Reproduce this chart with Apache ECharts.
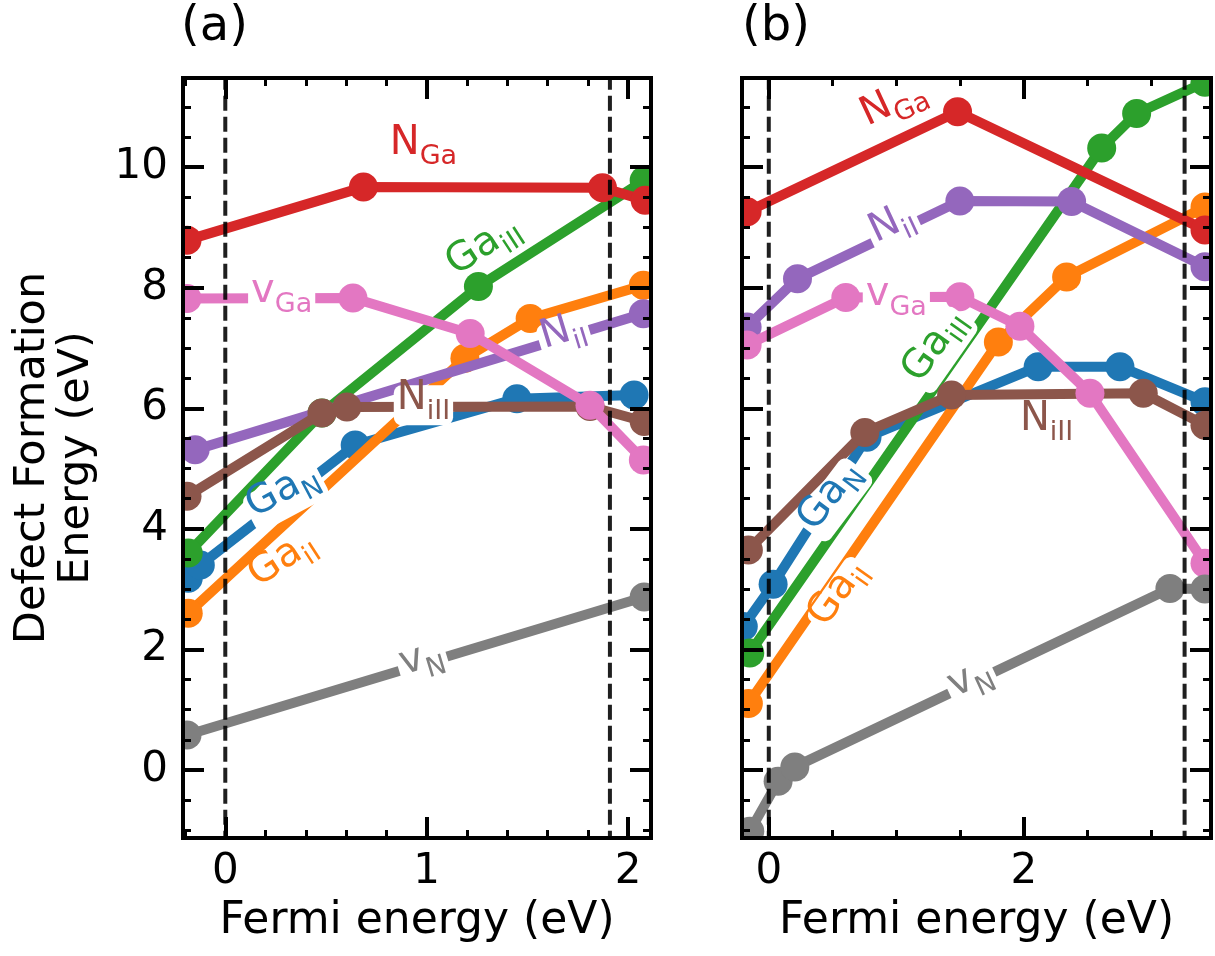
<!DOCTYPE html>
<html><head><meta charset="utf-8">
<script src="https://cdn.jsdelivr.net/npm/echarts@6/dist/echarts.min.js"></script>
<style>html,body{margin:0;padding:0;background:#fff}#c{width:1215px;height:956px}</style>
</head><body><div id="c"></div>
<script>
// ---------- DATA (Fermi energy [eV], formation energy [eV]) ----------
// Panel (a)
const GaN_a   = [[-0.184,3.18],[-0.124,3.40],[0.645,5.39],[1.448,6.16],[2.03,6.22]];
const GaiI_a  = [[-0.184,2.60],[1.19,6.83],[1.514,7.49],[2.076,8.04]];
const GaiII_a = [[-0.184,3.60],[0.48,5.92],[1.257,8.02],[2.08,9.78]];
const NGa_a   = [[-0.19,8.79],[0.686,9.67],[1.873,9.66],[2.085,9.45]];
const NiI_a   = [[-0.15,5.31],[2.076,7.57]];
const NiII_a  = [[-0.19,4.54],[0.48,5.92],[0.604,6.02],[1.811,6.03],[2.08,5.78]];
const vGa_a   = [[-0.19,7.82],[0.634,7.83],[1.216,7.24],[1.811,6.05],[2.076,5.14]];
const vN_a    = [[-0.19,0.58],[2.08,2.87]];
// Panel (b)
const GaN_b   = [[-0.2,2.38],[0.034,3.08],[0.77,5.52],[2.112,6.69],[2.753,6.69],[3.42,6.11]];
const GaiI_b  = [[-0.16,1.10],[1.80,7.10],[2.335,8.18],[3.42,9.34]];
const GaiII_b = [[-0.149,1.94],[2.61,10.32],[2.884,10.89],[3.42,11.41]];
const NGa_b   = [[-0.17,9.26],[1.48,10.92],[3.42,8.96]];
const NiI_b   = [[-0.17,7.35],[0.225,8.15],[1.498,9.44],[2.374,9.43],[3.42,8.35]];
const NiII_b  = [[-0.16,3.65],[0.753,5.60],[1.433,6.22],[2.936,6.25],[3.42,5.72]];
const vGa_b   = [[-0.17,7.05],[0.604,7.84],[1.498,7.85],[1.969,7.36],[2.518,6.25],[3.42,3.43]];
const vN_b    = [[-0.149,-1.02],[0.073,-0.19],[0.204,0.05],[3.145,3.01],[3.42,3.00]];
// Band edges (vertical dashed lines)
const edges_a = [0, 1.91];
const edges_b = [0, 3.26];
// Axis ranges and ticks
const xRange_a = [-0.21, 2.114];
const xRange_b = [-0.21, 3.467];
const yRange   = [-1.13, 11.48];
const xMajor_a = [0, 1, 2];
const xMinor_a = [-0.2, 0.2, 0.4, 0.6, 0.8, 1.2, 1.4, 1.6, 1.8];
const xMajor_b = [0, 2];
const xMinor_b = [0.5, 1, 1.5, 2.5, 3];
const yMajor   = [0, 2, 4, 6, 8, 10];
const yMinor   = [-1, -0.5, 0.5, 1, 1.5, 2.5, 3, 3.5, 4.5, 5, 5.5, 6.5, 7, 7.5, 8.5, 9, 9.5, 10.5, 11];
// Inline labels: [main, subscript, x, y, rotation, whiteBox]
const labels_a = {
  GaN:  ['Ga','N',   0.30, 4.53, 28, true],
  GaiI: ['Ga','iI',  0.30, 3.40, 33, false],
  GaiII:['Ga','iII', 1.30, 8.60, 33, false],
  NGa:  ['N','Ga',   0.984,10.28, 0, false],
  NiI:  ['N','iI',   1.687,7.16, 17, true],
  NiII: ['N','iII',  0.984,6.05,  0, true],
  vGa:  ['v','Ga',   0.28, 7.82,  0, true],
  vN:   ['v','N',    0.984,1.74, 17, true]
};
const labels_b = {
  GaN:  ['Ga','N',   0.518,4.48, 53, true],
  GaiI: ['Ga','iI',  0.583,2.87, 55, true],
  GaiII:['Ga','iII', 1.341,6.97, 55, true],
  NGa:  ['N','Ga',   1.00,10.97, 25, false],
  NiI:  ['N','iI',   0.988,8.96, 25, true],
  NiII: ['N','iII',  2.178,5.69,  0, false],
  vGa:  ['v','Ga',   1.00, 7.77,  0, true],
  vN:   ['v','N',    1.60, 1.41, 25, true]
};

// ---------- STYLE ----------
const FONT = 'DejaVu Sans';
const COLORS = {GaN:'#1f77b4', GaiI:'#ff7f0e', GaiII:'#2ca02c', NGa:'#d62728',
                NiI:'#9467bd', NiII:'#8c564b', vGa:'#e377c2', vN:'#7f7f7f'};
const ORDER = ['GaN','GaiI','GaiII','NGa','NiI','NiII','vGa','vN'];
const SERIES_A = {GaN:GaN_a, GaiI:GaiI_a, GaiII:GaiII_a, NGa:NGa_a, NiI:NiI_a, NiII:NiII_a, vGa:vGa_a, vN:vN_a};
const SERIES_B = {GaN:GaN_b, GaiI:GaiI_b, GaiII:GaiII_b, NGa:NGa_b, NiI:NiI_b, NiII:NiII_b, vGa:vGa_b, vN:vN_b};

const grids = [
  {left:183, top:78, width:468, height:760},
  {left:742, top:78, width:469, height:760}
];

function axisSet(dim, gi, range, major, minor, labelShow, name) {
  const posA = dim === 'x' ? 'bottom' : 'left';
  const posB = dim === 'x' ? 'top' : 'right';
  const base = {gridIndex: gi, type:'value', min: range[0], max: range[1], z: 30,
    splitLine:{show:false}, silent:true};
  const lineOn = {show:true, onZero:false, lineStyle:{color:'#000', width:4, cap:'square'}};
  const majorTick = {show:true, inside:true, length:21, customValues: major, lineStyle:{color:'#000', width:4}};
  const minorTick = {show:true, inside:true, length:8, customValues: minor, lineStyle:{color:'#000', width:3}};
  const res = [];
  const main = Object.assign({}, base, {position:posA, axisLine: lineOn, axisTick: majorTick,
    axisLabel: {show: labelShow, customValues: major, fontSize: 42, fontFamily: FONT, color:'#000',
      margin: dim === 'x' ? 13 : 15}});
  if (name) {
    Object.assign(main, {name: name, nameLocation:'middle',
      nameGap: dim === 'x' ? 62 : 84, nameRotate: dim === 'x' ? 0 : 90,
      nameTextStyle:{fontSize: dim === 'x' ? 44 : 43, fontFamily:FONT, color:'#000', lineHeight: 44}});
  }
  res.push(main);
  res.push(Object.assign({}, base, {position:posA, axisLine:{show:false, onZero:false}, axisTick: minorTick, axisLabel:{show:false}}));
  res.push(Object.assign({}, base, {position:posB, axisLine: lineOn, axisTick: majorTick, axisLabel:{show:false}}));
  res.push(Object.assign({}, base, {position:posB, axisLine:{show:false, onZero:false}, axisTick: minorTick, axisLabel:{show:false}}));
  return res;
}

const xAxes = [].concat(
  axisSet('x', 0, xRange_a, xMajor_a, xMinor_a, true, 'Fermi energy (eV)'),
  axisSet('x', 1, xRange_b, xMajor_b, xMinor_b, true, 'Fermi energy (eV)'));
const yAxes = [].concat(
  axisSet('y', 0, yRange, yMajor, yMinor, true, 'Defect Formation\nEnergy (eV)'),
  axisSet('y', 1, yRange, yMajor, yMinor, false, null));

const series = [];
function addPanel(p, SER, edges, labels) {
  const xi = p * 4, yi = p * 4;
  ORDER.forEach((k, i) => {
    series.push({type:'line', name:k + p, xAxisIndex: xi, yAxisIndex: yi, data: SER[k],
      symbol:'circle', symbolSize:29, showSymbol:true, clip:true, z: 2 + i,
      itemStyle:{color: COLORS[k], opacity:1}, lineStyle:{color: COLORS[k], width: 10, opacity:1},
      emphasis:{disabled:true}, animation:false, silent:true});
  });
  edges.forEach(e => {
    series.push({type:'line', xAxisIndex: xi, yAxisIndex: yi, data: [[e, -3],[e, 14]],
      symbol:'none', clip:true, z: 12, lineStyle:{color:'rgba(0,0,0,0.88)', width:4, type:[15,6]},
      emphasis:{disabled:true}, animation:false, silent:true});
  });
  const ldata = ORDER.map(k => {
    const L = labels[k];
    return {value:[L[2], L[3]], itemStyle:{opacity:1}, label:{
      show:true, position:'inside', rotate: L[4], opacity:1,
      formatter: '{m|' + L[0] + '}{s|' + L[1] + '}',
      backgroundColor: L[5] ? '#fff' : 'transparent', borderRadius: 8, padding:[0,3,0,3],
      rich:{
        m:{fontSize:40, fontFamily:FONT, color:COLORS[k], verticalAlign:'bottom', lineHeight:40, padding:[0,0,7,0], opacity:1},
        s:{fontSize:27, fontFamily:FONT, color:COLORS[k], verticalAlign:'bottom', lineHeight:28, opacity:1}
      }}};
  });
  series.push({type:'scatter', xAxisIndex: xi, yAxisIndex: yi, data: ldata, symbolSize: 0,
    itemStyle:{opacity:1}, z: 14, animation:false, silent:true, emphasis:{disabled:true}});
}
addPanel(0, SERIES_A, edges_a, labels_a);
addPanel(1, SERIES_B, edges_b, labels_b);

// white masks just outside each plot box (matplotlib-like clipping of markers)
const masks = [];
grids.forEach(g => {
  const L = g.left, T = g.top, R = g.left + g.width, B = g.top + g.height;
  const m = 24;
  [[L - m, T - m, m - 2, g.height + 2 * m], [R + 2, T - m, m, g.height + 2 * m],
   [L - m, T - m, g.width + 2 * m, m - 2], [L - m, B + 2, g.width + 2 * m, m]].forEach(r => {
    masks.push({type:'rect', z: 20, silent:true, shape:{x:r[0], y:r[1], width:r[2], height:r[3]},
      style:{fill:'#fff'}});
  });
});

const chart = echarts.init(document.getElementById('c'), null, {renderer:'canvas'});
chart.setOption({
  backgroundColor:'#fff',
  animation:false,
  title:[
    {text:'(a)', left:181, top:4, padding:0, z:40, textStyle:{fontSize:48, fontWeight:'normal', fontFamily:FONT, color:'#000'}},
    {text:'(b)', left:742, top:4, padding:0, z:40, textStyle:{fontSize:48, fontWeight:'normal', fontFamily:FONT, color:'#000'}}
  ],
  grid: grids.map(g => Object.assign({containLabel:false, outerBoundsMode:'none', show:false}, g)),
  xAxis: xAxes,
  yAxis: yAxes,
  graphic: masks,
  series: series
});
</script></body></html>
